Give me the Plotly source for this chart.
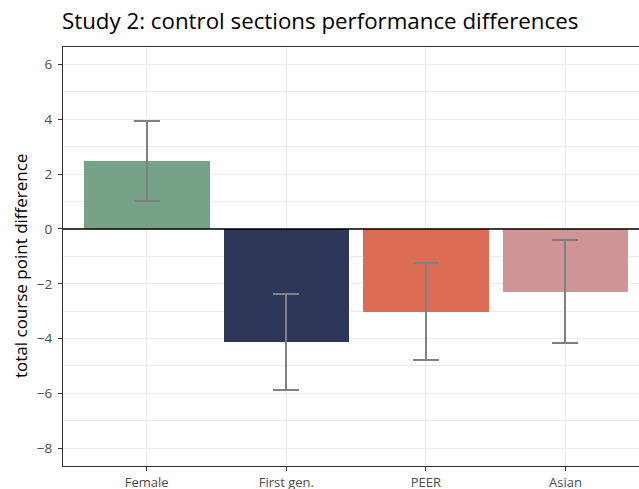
import plotly.graph_objects as go

categories = ["Female", "First gen.", "PEER", "Asian"]
values = [2.48, -4.12, -3.03, -2.30]
err_upper = [3.94, -2.37, -1.23, -0.40]
err_lower = [1.02, -5.88, -4.79, -4.16]
colors = ["#76A287", "#2C3759", "#DC6C53", "#D09597"]
y_ticks = [-8, -6, -4, -2, 0, 2, 4, 6]

x_idx = list(range(len(categories)))
plus = [u - v for u, v in zip(err_upper, values)]
minus = [v - l for v, l in zip(values, err_lower)]

fig = go.Figure()
fig.add_trace(go.Bar(
    x=x_idx, y=values, width=0.9,
    marker=dict(color=colors, line=dict(width=0)),
    error_y=dict(type="data", symmetric=False, array=plus, arrayminus=minus,
                 color="#808080", thickness=2, width=13),
    showlegend=False,
))

grid = "#EBEBEB"
W, H, L, T, B = 639, 489, 63, 47, 23
fig.update_layout(
    width=W, height=H,
    margin=dict(l=L, r=0, t=T, b=B, autoexpand=False),
    plot_bgcolor="white", paper_bgcolor="white",
    font=dict(family="Open Sans, Noto Sans, sans-serif"),
    title=dict(text="Study 2: control sections performance differences",
               x=62/W, xanchor="left", xref="container",
               y=1 - 21/H, yanchor="middle", yref="container",
               font=dict(size=22.3, color="black")),
    bargap=0,
    xaxis=dict(
        range=[-0.6, (W - 147) / 139.5], tickvals=x_idx, ticktext=categories,
        showgrid=True, gridcolor=grid, gridwidth=1.3, zeroline=False,
        ticks="outside", ticklen=4, tickcolor="#333333", tickwidth=1,
        tickfont=dict(size=13, color="#4D4D4D"),
        showline=True, linecolor="#333333", linewidth=1.2, mirror=True,
        automargin=False,
    ),
    yaxis=dict(
        range=[-8.65, 6.64], tickvals=y_ticks,
        ticktext=[("\u2212" + str(abs(v))) if v < 0 else str(v) for v in y_ticks],
        showgrid=True, gridcolor=grid, gridwidth=1.3,
        minor=dict(dtick=1, tick0=-9, showgrid=True, gridcolor=grid, gridwidth=0.9),
        zeroline=False,
        ticks="outside", ticklen=4, tickcolor="#333333", tickwidth=1,
        tickfont=dict(size=13.5, color="#4D4D4D"),
        ticklabelstandoff=3,
        showline=True, linecolor="#333333", linewidth=1.2, mirror=True,
        automargin=False,
    ),
)
pw, ph = W - L, H - T - B
fig.add_annotation(text="total course point difference", textangle=-90,
                   xref="paper", yref="paper", x=(20 - L) / pw, y=(H - B - 266) / ph,
                   xanchor="center", yanchor="middle", showarrow=False,
                   font=dict(size=17, color="black"))
fig.add_hline(y=0, line=dict(color="black", width=1.5), layer="above")
fig.write_html("out.html", config={"displayModeBar": False},
               post_script="document.body.style.margin='0';")
